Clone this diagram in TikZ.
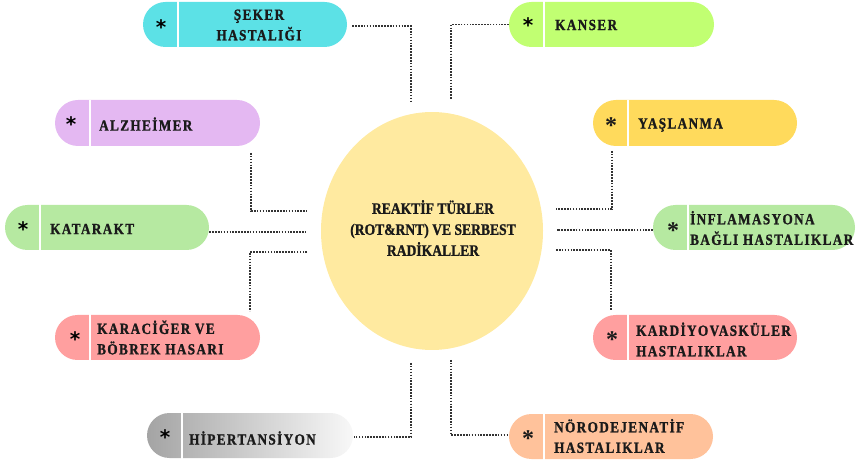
\documentclass[tikz,border=0pt]{standalone}
\usepackage{fontspec}
\setmainfont{Liberation Serif}
\newfontfamily\pillfont{Liberation Serif}[LetterSpace=9, FakeStretch=0.85, FakeBold=1.2]
\newfontfamily\corefont{Liberation Serif}[FakeStretch=0.85, FakeBold=1.2]
\newfontfamily\starsans{DejaVu Sans}
\usetikzlibrary{shapes.misc,shapes.geometric,calc}
\definecolor{cyanC}{HTML}{5CE1E6}
\definecolor{limeC}{HTML}{C1FF72}
\definecolor{lilacC}{HTML}{E4B8F2}
\definecolor{yellowC}{HTML}{FFDA5C}
\definecolor{greenC}{HTML}{B6E9A1}
\definecolor{pinkC}{HTML}{FF9F9F}
\definecolor{peachC}{HTML}{FFC29B}
\definecolor{coreC}{HTML}{FFEAA0}
\definecolor{hipL}{HTML}{A4A4A4}
\definecolor{hipR}{HTML}{F8F8F8}
\definecolor{dotC}{HTML}{333333}
\definecolor{txtC}{HTML}{1A1A1A}
\begin{document}
\begin{tikzpicture}[x=1pt,y=-1pt,
  pill/.style={rounded rectangle, minimum height=45pt, minimum width=204pt, inner sep=0pt, draw=none},
  divider/.style={white, line width=1.5pt},
  pilltext/.style={font=\pillfont\bfseries\fontsize{15.5}{20.5}\selectfont, text=txtC, align=left, inner sep=0pt},
  starA/.style={font=\starsans\bfseries\fontsize{20}{20}\selectfont, text=black, inner sep=0pt},
  starB/.style={font=\bfseries\fontsize{24}{24}\selectfont, text=txtC, inner sep=0pt},
  conn/.style={draw=dotC, line width=1.6pt, dash pattern=on 1.6pt off 1.3pt}]
\useasboundingbox (0,0) rectangle (857,462);

% central ellipse
\node[ellipse, fill=coreC, minimum width=222pt, minimum height=238pt, inner sep=0pt] (core) at (432,231) {};
\node[font=\corefont\bfseries\fontsize{16}{21}\selectfont, text=txtC, align=center, inner sep=0pt] (coreT) at (433,228)
  {REAKTİF TÜRLER\\(ROT\&RNT) VE SERBEST\\RADİKALLER};

% pills
\node[pill, fill=cyanC] (seker) at (245,24.5) {};
\node[pill, fill=limeC, minimum width=205pt] (kanser) at (611.5,24.5) {};
\node[pill, fill=lilacC, minimum height=46pt, minimum width=205pt] (alz) at (157.5,123) {};
\node[pill, fill=yellowC, minimum height=46pt] (yas) at (695,123) {};
\node[pill, fill=greenC] (kat) at (107,227.5) {};
\node[pill, fill=greenC, minimum width=202pt] (inf) at (754,227.5) {};
\node[pill, fill=pinkC, minimum width=205pt] (kar) at (157.5,337.5) {};
\node[pill, fill=pinkC] (kardiyo) at (695,337.5) {};
\node[pill, left color=hipL, right color=hipR, minimum width=206pt] (hip) at (250,435.5) {};
\node[pill, fill=peachC] (noro) at (611,436.5) {};

% dividers
\foreach \p in {seker,kanser,alz,yas,kat,inf,kar,kardiyo,hip,noro}{
  \draw[divider] ($(\p.west)+(35,-23)$) -- ($(\p.west)+(35,23)$);
}

% stars
\node[starA] (sekerS) at (161,27) {*};
\node[starA] (kanserS) at (528,25) {*};
\node[starA] (alzS) at (71,124) {*};
\node[starA] (katS) at (23,229) {*};
\node[starA] (karS) at (75,339) {*};
\node[starA] (hipS) at (165,437) {*};
\node[starB] (yasS) at (611,126) {*};
\node[starB] (infS) at (673,231) {*};
\node[starB] (kardiyoS) at (612,340) {*};
\node[starB] (noroS) at (528,439) {*};

% texts
\node[pilltext, align=center] (sekerT) at (259,25) {ŞEKER\\HASTALIĞI};
\node[pilltext, anchor=west] (kanserT) at (555,25) {KANSER};
\node[pilltext, anchor=west] (alzT) at (99,124) {ALZHEİMER};
\node[pilltext, anchor=west] (yasT) at (638,125) {YAŞLANMA};
\node[pilltext, anchor=west] (katT) at (50,229) {KATARAKT};
\node[pilltext, anchor=west] (infT) at (690,228) {İNFLAMASYONA\\BAĞLI HASTALIKLAR};
\node[pilltext, anchor=west] (karT) at (97,337.5) {KARACİĞER VE\\BÖBREK HASARI};
\node[pilltext, anchor=west] (kardiyoT) at (636,339.5) {KARDİYOVASKÜLER\\HASTALIKLAR};
\node[pilltext, anchor=west] (hipT) at (189,438) {HİPERTANSİYON};
\node[pilltext, anchor=west] (noroT) at (554,436) {NÖRODEJENATİF\\HASTALIKLAR};

% connector free ends
\coordinate (sekerE) at (411,101);
\coordinate (kanserE) at (451,99);
\coordinate (alzA) at (251,153);
\coordinate (alzE) at (307,211);
\coordinate (katE) at (305,232);
\coordinate (karA) at (307,252);
\coordinate (karE) at (250,311);
\coordinate (yasA) at (612,151);
\coordinate (yasE) at (556,209);
\coordinate (infE) at (557,230);
\coordinate (kardiyoA) at (556,250);
\coordinate (kardiyoE) at (611,310);
\coordinate (hipA) at (411,363);
\coordinate (noroA) at (451,360);

% connectors
\draw[conn] ([xshift=5pt,yshift=-1.5pt]seker.east) -| (sekerE);
\draw[conn] (kanser.west) -| (kanserE);
\draw[conn] (alzA) |- (alzE);
\draw[conn] ([yshift=-4.5pt]kat.east) -- (katE);
\draw[conn] (karA) -| (karE);
\draw[conn] (yasA) |- (yasE);
\draw[conn] ([yshift=-2.5pt]inf.west) -- (infE);
\draw[conn] (kardiyoA) -| (kardiyoE);
\draw[conn] (hipA) |- ([xshift=1pt,yshift=-1.5pt]hip.east);
\draw[conn] (noroA) |- ([yshift=1.5pt]noro.west);
\end{tikzpicture}
\end{document}
